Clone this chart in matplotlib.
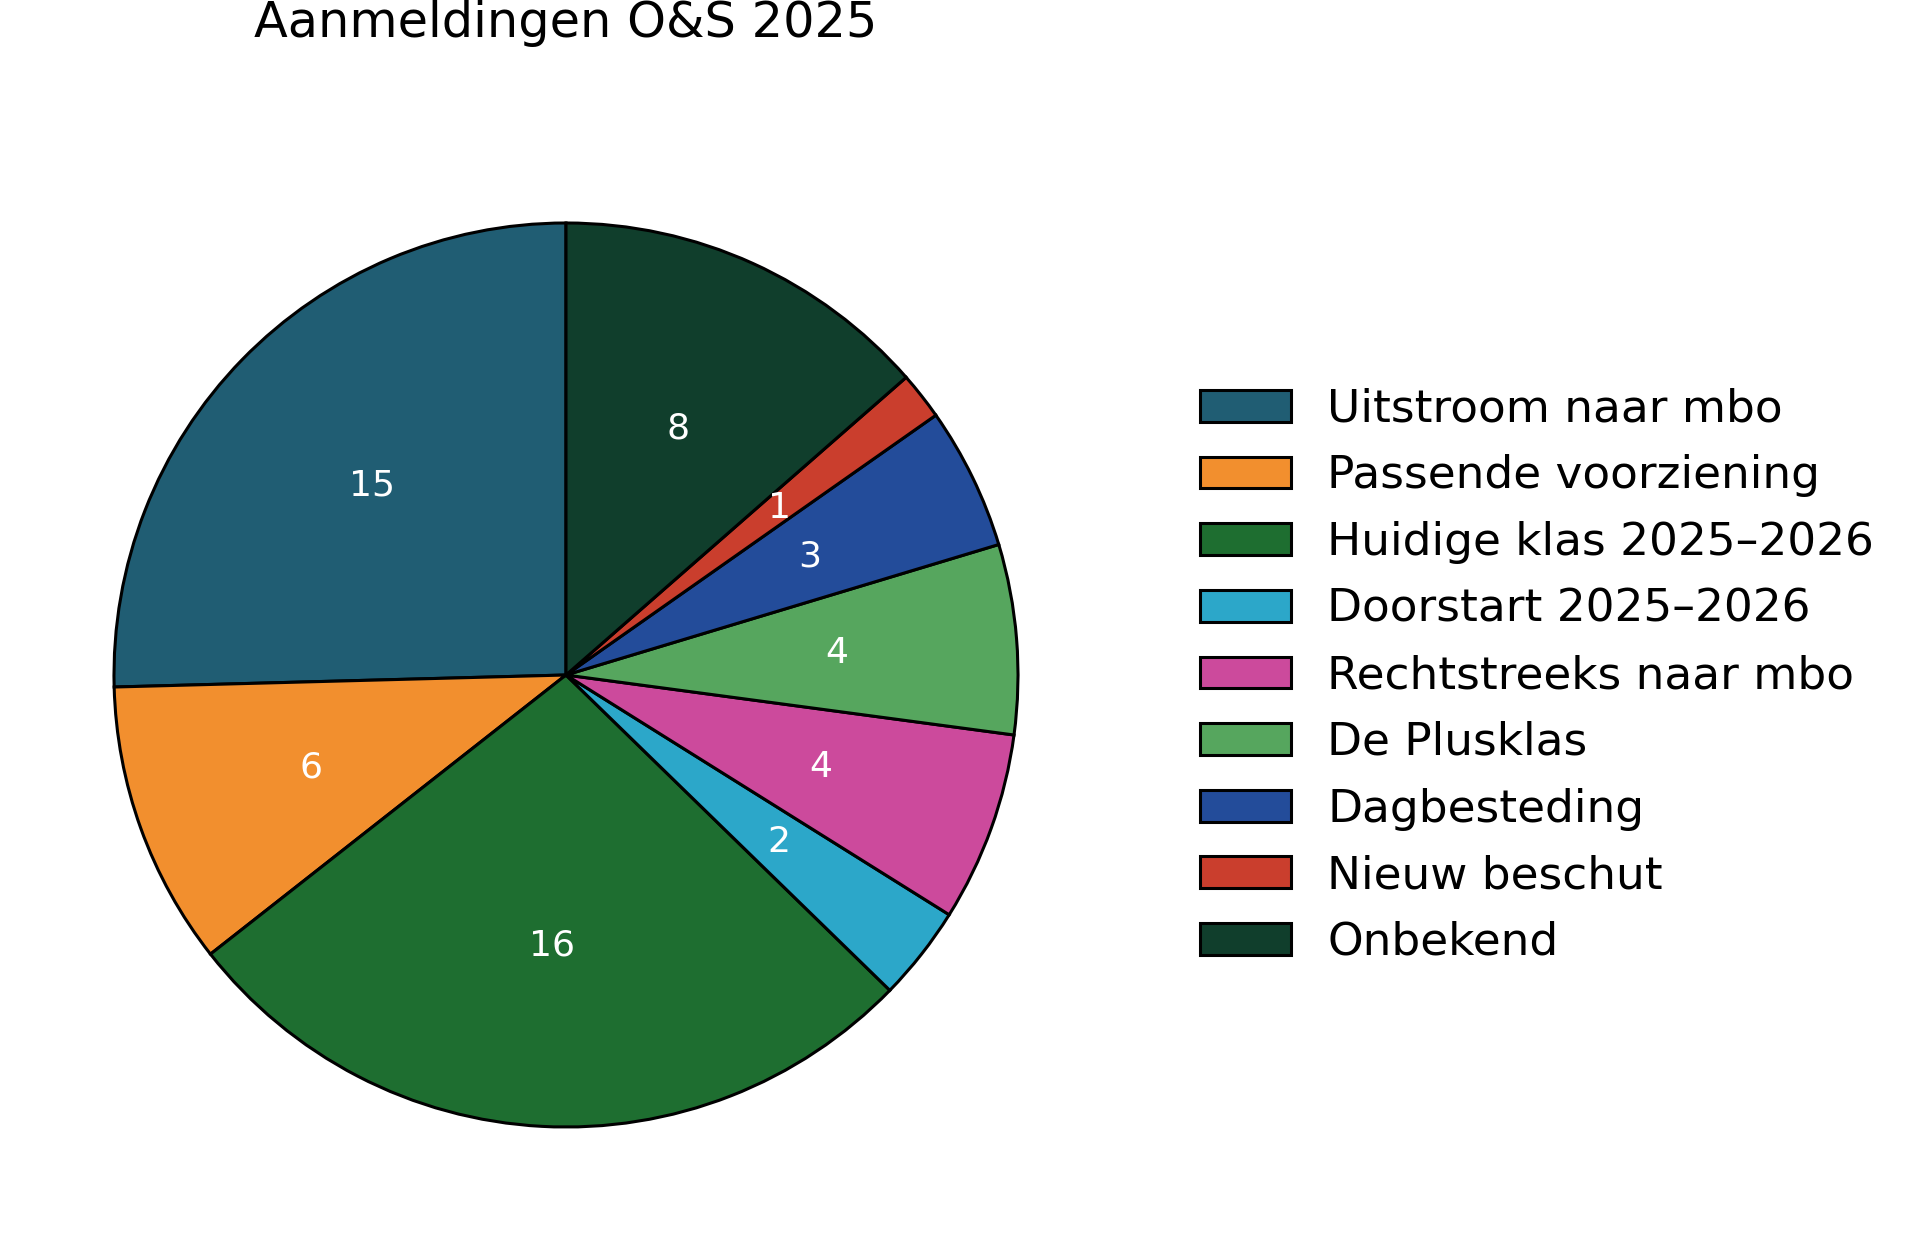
import matplotlib
matplotlib.use("Agg")
import matplotlib.pyplot as plt

# ---- data ----
labels = ["Uitstroom naar mbo", "Passende voorziening", "Huidige klas 2025–2026",
          "Doorstart 2025–2026", "Rechtstreeks naar mbo", "De Plusklas",
          "Dagbesteding", "Nieuw beschut", "Onbekend"]
counts = [15, 6, 16, 2, 4, 4, 3, 1, 8]
colors = ["#205d73", "#f28f2e", "#1e6e30", "#2ca7c9", "#cc4a9c",
          "#56a65e", "#234c9a", "#ca3e2d", "#103e2c"]
title = "Aanmeldingen O&S 2025"

W, H, DPI = 1920, 1241, 100
fig = plt.figure(figsize=(W / DPI, H / DPI), dpi=DPI)

# pie centre in px from top-left, radius in px
cx, cy, r, lim = 566, H - 675, 452, 1.05
half = r * lim
ax = fig.add_axes([(cx - half) / W, (cy - half) / H, 2 * half / W, 2 * half / H])

total = sum(counts)
wedges, _, autotexts = ax.pie(
    counts, colors=colors, startangle=90, counterclock=True,
    autopct=lambda p: f"{round(p * total / 100):d}", pctdistance=0.6,
    wedgeprops=dict(edgecolor="black", linewidth=2.2),
    textprops=dict(color="white", fontsize=26))
ax.set_xlim(-lim, lim); ax.set_ylim(-lim, lim); ax.set_aspect("equal")
ax.axis("off")

fig.text(cx / W, 1 - 37 / H, title, ha="center", va="baseline", fontsize=35.6)

fig.legend(wedges, labels, loc="upper left", bbox_to_anchor=(1159 / W, 1 - 347 / H),
           frameon=False, fontsize=32.7, labelspacing=0.52)

fig.savefig("out.png", dpi=DPI)
